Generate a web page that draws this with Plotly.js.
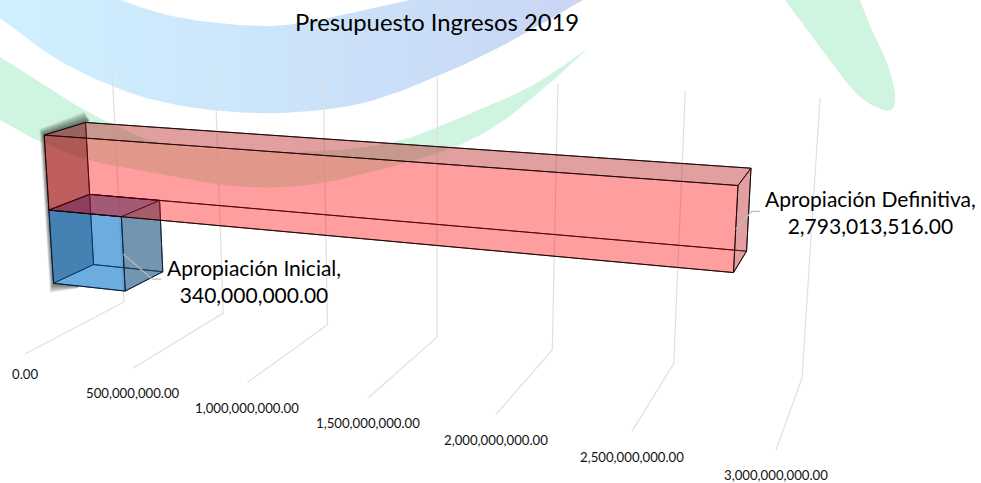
<!DOCTYPE html>
<html>
<head>
<meta charset="utf-8">
<script src="https://cdn.plot.ly/plotly-3.0.1.min.js"></script>
<style>html,body{margin:0;padding:0;background:#fff}#chart{width:981px;height:483px}</style>
</head>
<body>
<div id="chart"></div>
<script>
// ---- data ----
const chartTitle = 'Presupuesto Ingresos 2019';
const seriesNames = ['Apropiación Inicial', 'Apropiación Definitiva'];
const seriesValues = [340000000, 2793013516];
const tickValues = [0, 500000000, 1000000000, 1500000000, 2000000000, 2500000000, 3000000000];

// ---- 3D view: value axis (billions), depth and category height (0..1) onto the picture ----
const viewX = [124, 187.9, -101.55, -16.9];
const viewY = [302, 7.38, 15.9, -244.4];
const viewW = [1, -0.0475, -0.1021, -0.0395];
function project(value, depth, height) {
  const v = value / 1e9;
  const row = m => m[0] + m[1] * v + m[2] * depth + m[3] * height;
  return [row(viewX) / row(viewW), row(viewY) / row(viewW)];
}

// ---- bar geometry in the 3D chart box ----
const depthRange = [0.3, 0.7];
const heightRanges = [[0.215, 0.5], [0.5, 0.785]];

// ---- styling ----
const fontFamily = 'Lato, "Open Sans", sans-serif';
const faceStyles = [
  { edge: 'rgba(5,25,50,0.85)', back: 'rgba(0,111,198,0.35)', bottom: 'rgba(0,111,198,0.35)', left: 'rgba(0,57,108,0.58)',
    right: 'rgba(53,83,102,0.45)', top: 'rgba(0,40,115,0.35)', front: 'rgba(0,111,198,0.35)' },
  { edge: 'rgba(25,5,5,0.85)', back: 'rgba(255,0,0,0.21)', bottom: 'rgba(255,0,0,0.21)', left: 'rgba(100,0,0,0.53)',
    right: 'rgba(158,64,70,0.3)', top: 'rgba(158,64,64,0.3)', front: 'rgba(255,0,0,0.21)' }
];
const faceOrder = ['back', 'bottom', 'left', 'right', 'top', 'front'];
const leaderOffsets = [[[29, 25], [38, 25]], [[16, -18], [24, -18]]];
const labelPositions = [[254, 281], [870, 212]];
const labelShift = [20, 25, 25, 25, 26, 25, 25];
const shadowSteps = [12, 11, 10, 9, 8, 7, 6, 5, 4, 3, 2, 1];

// ---- decorative backdrop outlines ----
const blueOuter = [[0,18],[33,43],[67,65],[117,88],[167,103],[233,112],[300,112],[367,102],[433,78],[500,47],[583,0]];
const blueInner = [[410,0],[343,15],[300,23],[267,26],[217,23],[167,15],[120,0]];
const blueCorner = [[0,0]];
const greenLeftUpper = [[0,57],[33,78],[67,100],[110,123],[160,143],[230,150],[300,152],[390,143],[467,115],[533,85],[588,48]];
const greenLeftLower = [[588,48],[550,83],[500,123],[447,150],[367,173],[300,186],[233,186],[167,175],[100,163],[43,143],[0,120]];
const greenRight = [[785,0],[810,33],[837,70],[860,97],[883,110],[893,108],[895,93],[887,63],[873,33],[860,0]];

function smooth(pts) {
  const out = [];
  for (let i = 0; i < pts.length - 1; i++) {
    const p0 = pts[Math.max(i - 1, 0)], p1 = pts[i], p2 = pts[i + 1], p3 = pts[Math.min(i + 2, pts.length - 1)];
    for (let s = 0; s < 8; s++) {
      const t = s / 8;
      const f = k => 0.5 * (2 * p1[k] + (p2[k] - p0[k]) * t + (2 * p0[k] - 5 * p1[k] + 4 * p2[k] - p3[k]) * t * t + (3 * p1[k] - p0[k] - 3 * p2[k] + p3[k]) * t * t * t);
      out.push([f(0), f(1)]);
    }
  }
  out.push(pts[pts.length - 1]);
  return out;
}

const traces = [];
function poly(pts, fill, lineColor, lineWidth, extra) {
  const closed = pts.concat([pts[0]]);
  traces.push(Object.assign({
    type: 'scatter', mode: 'lines', x: closed.map(p => p[0]), y: closed.map(p => p[1]),
    fill: 'toself', fillcolor: fill, line: { color: lineColor || 'rgba(0,0,0,0)', width: lineWidth || 0 },
    hoverinfo: 'skip', showlegend: false
  }, extra || {}));
}
function polyline(pts, color, width) {
  traces.push({ type: 'scatter', mode: 'lines', x: pts.map(p => p[0]), y: pts.map(p => p[1]),
    line: { color: color, width: width }, hoverinfo: 'skip', showlegend: false });
}

// backdrop
poly(smooth(blueOuter).concat(smooth(blueInner), blueCorner), '#CFF0FF', null, 0, {
  fillgradient: { type: 'horizontal', colorscale: [[0, '#CFF1FF'], [1, '#C9D6F4']] } });
poly(smooth(greenLeftUpper).concat(smooth(greenLeftLower)), '#CFF5E1');
poly(smooth(greenRight), '#CFF5E1');

// value gridlines: front floor -> back floor -> top of the wall
tickValues.forEach(t => polyline([project(t, 1, 0), project(t, 0, 0), project(t, 0, 1)], '#E0E0E0', 1.2));

// soft shadow on the left of the bars
const [dBack, dFront] = depthRange;
const pBottom = project(0, dFront, heightRanges[0][0]);
const pBottomEnd = project(seriesValues[0] * 0.35, dFront, heightRanges[0][0]);
const pTop = project(0, dFront, heightRanges[1][1]);
const pTopBack = project(0, dBack, heightRanges[1][1]);
shadowSteps.forEach(k => {
  poly([
    [pBottomEnd[0], pBottomEnd[1] + k * 0.2],
    [pBottom[0] - k * 0.3, pBottom[1] + k * 0.8],
    [pTop[0] - k * 0.4, pTop[1] - k * 0.5],
    [pTopBack[0] - k * 0.1, pTopBack[1] - k * 0.9],
    [pTopBack[0] + 4, pTopBack[1] - k * 0.2],
    pTopBack, pTop, pBottom, pBottomEnd
  ], 'rgba(0,0,0,0.06)');
});

// bars
seriesValues.forEach((val, i) => {
  const [h0, h1] = heightRanges[i];
  const st = faceStyles[i];
  const faces = {
    back:   [project(0, dBack, h0), project(val, dBack, h0), project(val, dBack, h1), project(0, dBack, h1)],
    bottom: [project(0, dBack, h0), project(val, dBack, h0), project(val, dFront, h0), project(0, dFront, h0)],
    left:   [project(0, dBack, h0), project(0, dFront, h0), project(0, dFront, h1), project(0, dBack, h1)],
    right:  [project(val, dBack, h0), project(val, dFront, h0), project(val, dFront, h1), project(val, dBack, h1)],
    top:    [project(0, dBack, h1), project(val, dBack, h1), project(val, dFront, h1), project(0, dFront, h1)],
    front:  [project(0, dFront, h0), project(val, dFront, h0), project(val, dFront, h1), project(0, dFront, h1)]
  };
  faceOrder.forEach(name => poly(faces[name], st[name], st.edge, 1));
});

// leader lines
seriesValues.forEach((val, i) => {
  const [h0, h1] = heightRanges[i];
  const a = project(val, dFront, (h0 + h1) / 2);
  const o = leaderOffsets[i];
  polyline([a, [a[0] + o[0][0], a[1] + o[0][1]], [a[0] + o[1][0], a[1] + o[1][1]]], '#BDBDBD', 1.2);
});

// text
const annotations = [];
const fmt = n => n.toLocaleString('en-US', { minimumFractionDigits: 2, maximumFractionDigits: 2 });
tickValues.forEach((t, i) => {
  const p = project(t, 1, 0);
  annotations.push({ x: p[0], y: p[1], yshift: -labelShift[i], text: fmt(t), showarrow: false,
    xanchor: 'center', yanchor: 'middle', font: { family: fontFamily, size: 13.2, color: '#111' } });
});
seriesValues.forEach((val, i) => {
  annotations.push({ x: labelPositions[i][0], y: labelPositions[i][1], text: seriesNames[i] + ',<br>' + fmt(val),
    showarrow: false, xanchor: 'center', yanchor: 'middle', align: 'center',
    font: { family: fontFamily, size: 21, color: '#000' } });
});

const layout = {
  width: 981, height: 483,
  margin: { l: 0, r: 0, t: 0, b: 0, pad: 0 },
  paper_bgcolor: '#fff', plot_bgcolor: '#fff',
  showlegend: false,
  title: { text: chartTitle, x: 437 / 981, xanchor: 'center', y: 1 - 23 / 483, yanchor: 'middle',
    font: { family: fontFamily, size: 23.8, color: '#000' } },
  xaxis: { range: [0, 981], visible: false, fixedrange: true },
  yaxis: { range: [483, 0], visible: false, fixedrange: true },
  annotations: annotations
};
Plotly.newPlot('chart', traces, layout, { displayModeBar: false, staticPlot: true });
</script>
</body>
</html>
